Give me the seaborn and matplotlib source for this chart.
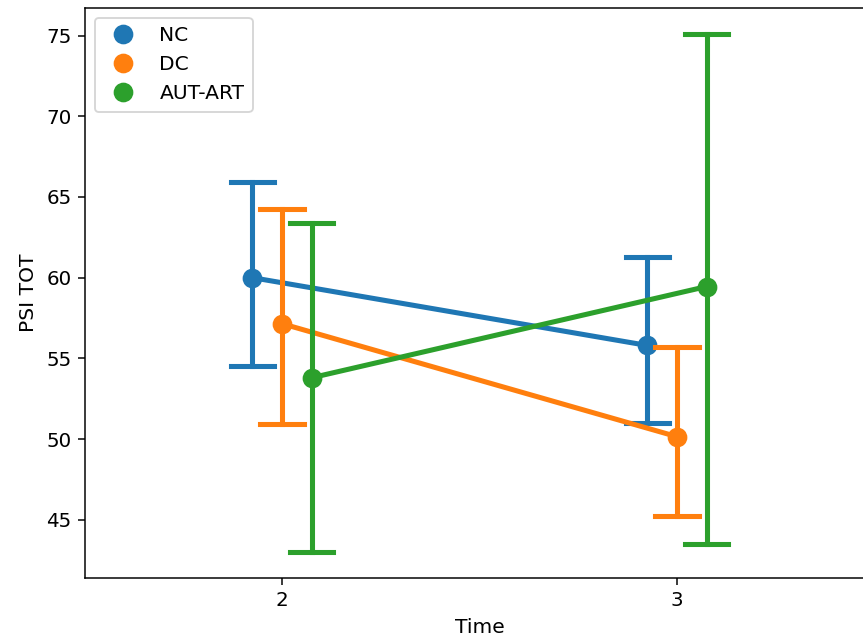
import numpy as np
import pandas as pd
import matplotlib
matplotlib.use("Agg")
import matplotlib.pyplot as plt
import seaborn as sns
from matplotlib.lines import Line2D

times = [2, 3]
groups = ["NC", "DC", "AUT-ART"]
means = {"NC": [60.0, 55.8], "DC": [57.15, 50.15], "AUT-ART": [53.8, 59.45]}
lows = {"NC": [54.5, 51.0], "DC": [50.95, 45.25], "AUT-ART": [43.0, 43.5]}
highs = {"NC": [65.9, 61.25], "DC": [64.25, 55.7], "AUT-ART": [63.4, 75.1]}

rows = []
for g in groups:
    for i, t in enumerate(times):
        for v in (lows[g][i], means[g][i], highs[g][i]):
            rows.append({"Time": t, "Group": g, "PSI TOT": v})
df = pd.DataFrame(rows)

plt.rcParams["font.size"] = 10.8
plt.rcParams["xtick.labelsize"] = 10.6
plt.rcParams["ytick.labelsize"] = 10.6

dpi = 135
fig = plt.figure(figsize=(863 / dpi, 642 / dpi), dpi=dpi)
ax = fig.add_axes([84.5 / 863, 64 / 642, 790 / 863, 570 / 642])

sns.pointplot(data=df, x="Time", y="PSI TOT", hue="Group", hue_order=groups,
              order=times, estimator=np.median,
              errorbar=lambda v: (v.min(), v.max()),
              dodge=0.15, capsize=0.11, markersize=8.5, ax=ax)

handles, labels = ax.get_legend_handles_labels()
new_handles = [Line2D([], [], marker="o", linestyle="", color=h.get_color(),
                      markersize=9.5) for h in handles]
ax.legend(new_handles, labels, loc="upper left")

fig.savefig("out.png", dpi=dpi)
